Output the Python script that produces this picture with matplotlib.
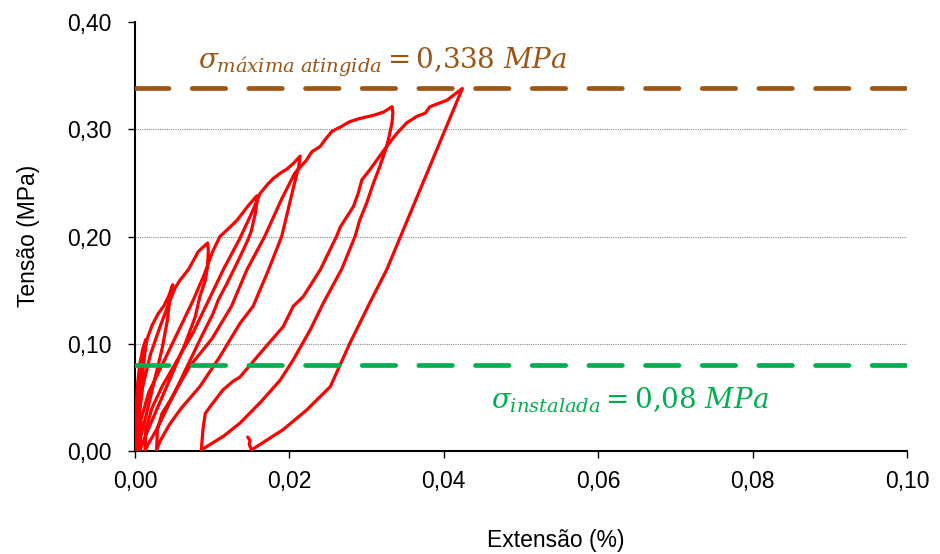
import numpy as np
import matplotlib
matplotlib.use("Agg")
import matplotlib.pyplot as plt
from matplotlib.ticker import FuncFormatter, MultipleLocator

plt.rcParams["font.family"] = ["Liberation Sans", "DejaVu Sans"]
plt.rcParams["mathtext.fontset"] = "dejavuserif"

# cyclic load test: each cycle = reload to a new peak, then unload
strain_c1 = [0.0000, 0.0001, 0.0003, 0.0006, 0.0010, 0.0014, 0.0012, 0.0008, 0.0004, 0.0001, 0.0001]
stress_c1 = [0.000, 0.030, 0.060, 0.080, 0.095, 0.104, 0.085, 0.060, 0.030, 0.005, 0.000]

strain_c2 = [0.0002, 0.0005, 0.0010, 0.0016, 0.0022, 0.0030, 0.0038, 0.0044, 0.0049,
             0.0047, 0.0045, 0.0042, 0.0035, 0.0025, 0.0015, 0.0007, 0.0004]
stress_c2 = [0.030, 0.060, 0.085, 0.105, 0.117, 0.128, 0.136, 0.145, 0.155,
             0.150, 0.141, 0.122, 0.095, 0.065, 0.035, 0.012, 0.000]

strain_c3 = [0.0005, 0.0010, 0.0020, 0.0032, 0.0044, 0.0052, 0.0058, 0.0069, 0.0076, 0.0082, 0.0094,
             0.0095, 0.0094, 0.0091, 0.0084, 0.0078, 0.0065, 0.0050, 0.0035, 0.0020, 0.0010, 0.0006]
stress_c3 = [0.030, 0.060, 0.090, 0.115, 0.138, 0.152, 0.159, 0.169, 0.178, 0.186, 0.194,
             0.187, 0.172, 0.159, 0.144, 0.125, 0.100, 0.075, 0.050, 0.025, 0.008, 0.000]

strain_c4 = [0.0008, 0.0018, 0.0035, 0.0055, 0.0075, 0.0090, 0.0100, 0.0110, 0.0122, 0.0132, 0.0147, 0.0158,
             0.0158, 0.0156, 0.0151, 0.0147, 0.0138, 0.0130, 0.0119, 0.0108, 0.0101, 0.0085, 0.0065,
             0.0045, 0.0028, 0.0016, 0.0013]
stress_c4 = [0.030, 0.055, 0.080, 0.110, 0.140, 0.165, 0.185, 0.200, 0.208, 0.215, 0.229, 0.238,
             0.232, 0.222, 0.206, 0.198, 0.184, 0.172, 0.156, 0.141, 0.128, 0.105, 0.075,
             0.045, 0.020, 0.005, 0.000]

strain_c5 = [0.0014, 0.0022, 0.0035, 0.0055, 0.0075, 0.0095, 0.0115, 0.0135, 0.0150, 0.0162, 0.0171,
             0.0179, 0.0188, 0.0197, 0.0205, 0.0214, 0.0212, 0.0205, 0.0190, 0.0173, 0.0153, 0.0136,
             0.0110, 0.0084, 0.0060, 0.0045, 0.0033, 0.0028]
stress_c5 = [0.020, 0.040, 0.060, 0.085, 0.110, 0.140, 0.170, 0.197, 0.220, 0.240, 0.248,
             0.254, 0.259, 0.263, 0.268, 0.275, 0.265, 0.245, 0.200, 0.169, 0.135, 0.119,
             0.088, 0.060, 0.040, 0.025, 0.010, 0.001]

strain_c6 = [0.0029, 0.0035, 0.0048, 0.0071, 0.0100, 0.0125, 0.0145, 0.0168, 0.0190, 0.0207, 0.0222,
             0.0229, 0.0240, 0.0246, 0.0255, 0.0266, 0.0278, 0.0291, 0.0309, 0.0322, 0.0333,
             0.0334, 0.0333, 0.0329, 0.0326, 0.0317, 0.0309, 0.0300, 0.0291, 0.0285, 0.0268,
             0.0244, 0.0227, 0.0205, 0.0188, 0.0162, 0.0136, 0.0115, 0.0095, 0.0086]
stress_c6 = [0.020, 0.035, 0.050, 0.079, 0.105, 0.135, 0.169, 0.200, 0.235, 0.259, 0.271,
             0.279, 0.284, 0.290, 0.298, 0.302, 0.307, 0.310, 0.313, 0.316, 0.321,
             0.316, 0.306, 0.293, 0.284, 0.265, 0.250, 0.231, 0.215, 0.200, 0.170,
             0.138, 0.113, 0.085, 0.066, 0.045, 0.026, 0.014, 0.005, 0.001]

strain_c7 = [0.0088, 0.0091, 0.0099, 0.0114, 0.0127, 0.0136, 0.0162, 0.0192, 0.0205, 0.0218, 0.0240,
             0.0261, 0.0266, 0.0283, 0.0289, 0.0294, 0.0304, 0.0313, 0.0326, 0.0339, 0.0352,
             0.0365, 0.0376, 0.0382, 0.0404, 0.0424,
             0.0326, 0.0304, 0.0278, 0.0253, 0.0222, 0.0192, 0.0151, 0.0148, 0.0149, 0.0146]
stress_c7 = [0.020, 0.035, 0.043, 0.057, 0.065, 0.069, 0.091, 0.116, 0.135, 0.144, 0.169,
             0.200, 0.209, 0.228, 0.240, 0.253, 0.262, 0.271, 0.284, 0.296, 0.306,
             0.312, 0.315, 0.321, 0.327, 0.338,
             0.169, 0.138, 0.100, 0.060, 0.038, 0.020, 0.001, 0.006, 0.010, 0.013]

sigma_max = 0.338
sigma_inst = 0.08

strain = np.concatenate([strain_c1, strain_c2, strain_c3, strain_c4, strain_c5, strain_c6, strain_c7])
stress = np.concatenate([stress_c1, stress_c2, stress_c3, stress_c4, stress_c5, stress_c6, stress_c7])

brown = "#9C5716"
green = "#00B050"

fig = plt.figure(figsize=(9.4, 5.54), dpi=100)
ax = fig.add_axes([0.1436, 0.1859, 0.8213, 0.7744])

ax.plot(strain, stress, color="#FF0000", lw=2.3, solid_joinstyle="round",
        solid_capstyle="round", zorder=3)

dash = (0, (7.1, 4.9))
ax.axhline(sigma_max, color=brown, lw=3.4, linestyle=dash, dash_capstyle="round", zorder=4)
ax.axhline(sigma_inst, color=green, lw=3.4, linestyle=dash, dash_capstyle="round", zorder=4)

ax.text(0.0321, 0.3627, r"$\sigma_{máxima\ atingida} = 0{,}338\ MPa$", color=brown,
        fontsize=20, ha="center", va="center")
ax.text(0.0641, 0.0476, r"$\sigma_{instalada} = 0{,}08\ MPa$", color=green,
        fontsize=20, ha="center", va="center")

ax.set_xlim(0, 0.10)
ax.set_ylim(0, 0.40)
ax.xaxis.set_major_locator(MultipleLocator(0.02))
ax.yaxis.set_major_locator(MultipleLocator(0.10))
comma = FuncFormatter(lambda v, pos: f"{v:.2f}".replace(".", ","))
ax.xaxis.set_major_formatter(comma)
ax.yaxis.set_major_formatter(comma)

for y in [0.1, 0.2, 0.3]:
    ax.axhline(y, color="#8C8C8C", lw=0.8, linestyle=(0, (1, 1)), zorder=1)

for side in ["top", "right"]:
    ax.spines[side].set_visible(False)
for side in ["left", "bottom"]:
    ax.spines[side].set_linewidth(1.5)
ax.tick_params(axis="both", direction="out", length=5, width=1, labelsize=16.5)
ax.tick_params(axis="y", pad=12)
ax.tick_params(axis="x", pad=9)

ax.set_ylabel("Tensão (MPa)", fontsize=16.5)
ax.set_xlabel("Extensão (%)", fontsize=16.5)
ax.yaxis.set_label_coords(-0.123, 0.501)
ax.xaxis.set_label_coords(0.545, -0.182)

fig.savefig("out.png", dpi=100)
